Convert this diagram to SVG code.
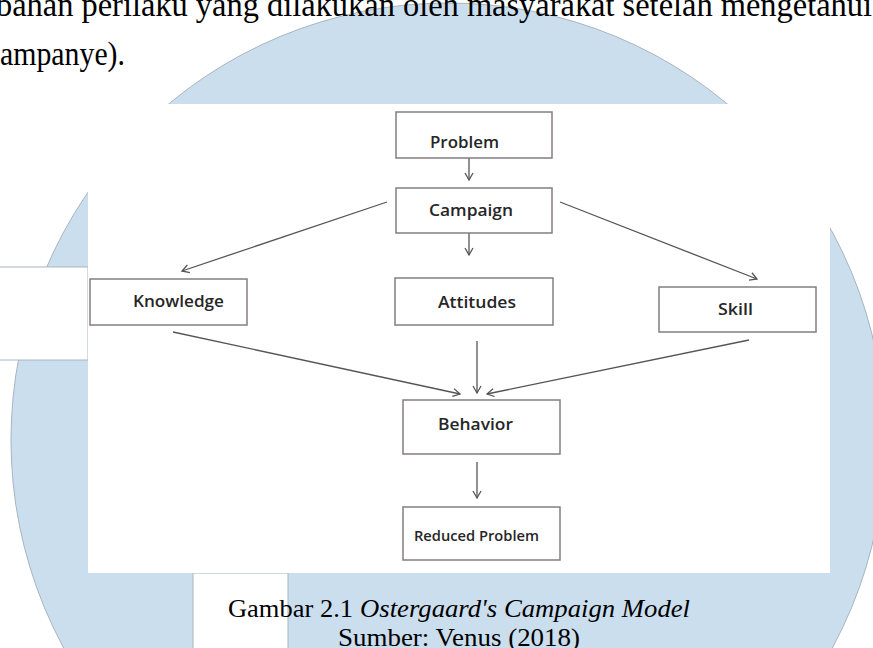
<svg xmlns="http://www.w3.org/2000/svg" width="873" height="648" viewBox="0 0 873 648">
  <defs>
    <style>
      .wm { fill: #cbdeee; stroke: #a9b4c0; stroke-width: 1; }
      .cut { fill: #ffffff; stroke: #a9b4c0; stroke-width: 1; }
      .box { fill: #ffffff; stroke: #857d80; stroke-width: 1.5; }
      .lbl { font-family: "Open Sans", "DejaVu Sans", sans-serif; font-size: 16px; font-weight: 600; fill: #262626; }
      .lbl-s { font-family: "Open Sans", "DejaVu Sans", sans-serif; font-size: 14px; font-weight: 600; fill: #262626; }
      .edge { fill: none; stroke: #555555; stroke-width: 1.3; marker-end: url(#ah); }
      .body { font-family: "Liberation Serif", "Times New Roman", serif; fill: #000000; }
    </style>
    <marker id="ah" markerUnits="userSpaceOnUse" markerWidth="12" markerHeight="12" viewBox="0 0 12 10" refX="8" refY="5" orient="auto">
      <path d="M1,1 L8,5 L1,9" fill="none" stroke="#555555" stroke-width="1.3"/>
    </marker>
  </defs>

  <!-- page -->
  <rect x="0" y="0" width="873" height="648" fill="#ffffff"/>

  <!-- watermark -->
  <g id="watermark">
    <circle class="wm" cx="448" cy="440" r="437"/>
    <rect class="cut" x="-2" y="267" width="90" height="93"/>
    <rect class="cut" x="193" y="573" width="95" height="80"/>
  </g>

  <!-- body text -->
  <text class="body" x="-4" y="16" font-size="34" textLength="876" lengthAdjust="spacingAndGlyphs">bahan perilaku yang dilakukan oleh masyarakat setelah mengetahui</text>
  <text class="body" x="0" y="65" font-size="34" textLength="125" lengthAdjust="spacingAndGlyphs">ampanye).</text>

  <!-- figure image background -->
  <rect id="figure" x="88" y="104" width="742" height="469" fill="#ffffff"/>

  <!-- connectors -->
  <g id="connectors">
    <line class="edge" x1="469" y1="158" x2="469" y2="180"/>
    <line class="edge" x1="387" y1="202" x2="182" y2="271"/>
    <line class="edge" x1="469" y1="233" x2="469" y2="255"/>
    <line class="edge" x1="560" y1="202" x2="757" y2="279"/>
    <line class="edge" x1="173" y1="332" x2="460" y2="394"/>
    <line class="edge" x1="477" y1="341" x2="477" y2="393"/>
    <line class="edge" x1="749" y1="340" x2="487" y2="394"/>
    <line class="edge" x1="477" y1="462" x2="477" y2="498"/>
  </g>

  <!-- nodes -->
  <g id="problem">
    <rect class="box" x="396" y="112" width="156" height="46"/>
    <text class="lbl" x="430" y="148" textLength="69" lengthAdjust="spacingAndGlyphs">Problem</text>
  </g>
  <g id="campaign">
    <rect class="box" x="396" y="188" width="156" height="45"/>
    <text class="lbl" x="429" y="216" textLength="84" lengthAdjust="spacingAndGlyphs">Campaign</text>
  </g>
  <g id="knowledge">
    <rect class="box" x="90" y="279" width="157" height="46"/>
    <text class="lbl" x="133" y="307" textLength="91" lengthAdjust="spacingAndGlyphs">Knowledge</text>
  </g>
  <g id="attitudes">
    <rect class="box" x="395" y="278" width="158" height="47"/>
    <text class="lbl" x="438" y="308" textLength="78" lengthAdjust="spacingAndGlyphs">Attitudes</text>
  </g>
  <g id="skill">
    <rect class="box" x="659" y="287" width="157" height="45"/>
    <text class="lbl" x="718" y="315" textLength="35" lengthAdjust="spacingAndGlyphs">Skill</text>
  </g>
  <g id="behavior">
    <rect class="box" x="403" y="400" width="157" height="54"/>
    <text class="lbl" x="438" y="430" textLength="75" lengthAdjust="spacingAndGlyphs">Behavior</text>
  </g>
  <g id="reduced-problem">
    <rect class="box" x="403" y="507" width="157" height="53"/>
    <text class="lbl-s" x="414" y="541" textLength="125" lengthAdjust="spacingAndGlyphs">Reduced Problem</text>
  </g>

  <!-- caption -->
  <text class="body" x="228" y="617" font-size="25" textLength="125" lengthAdjust="spacingAndGlyphs">Gambar 2.1</text>
  <text class="body" x="360" y="617" font-size="25" font-style="italic" textLength="330" lengthAdjust="spacingAndGlyphs">Ostergaard's Campaign Model</text>
  <text class="body" x="338" y="646" font-size="25" textLength="242" lengthAdjust="spacingAndGlyphs">Sumber: Venus (2018)</text>
</svg>
